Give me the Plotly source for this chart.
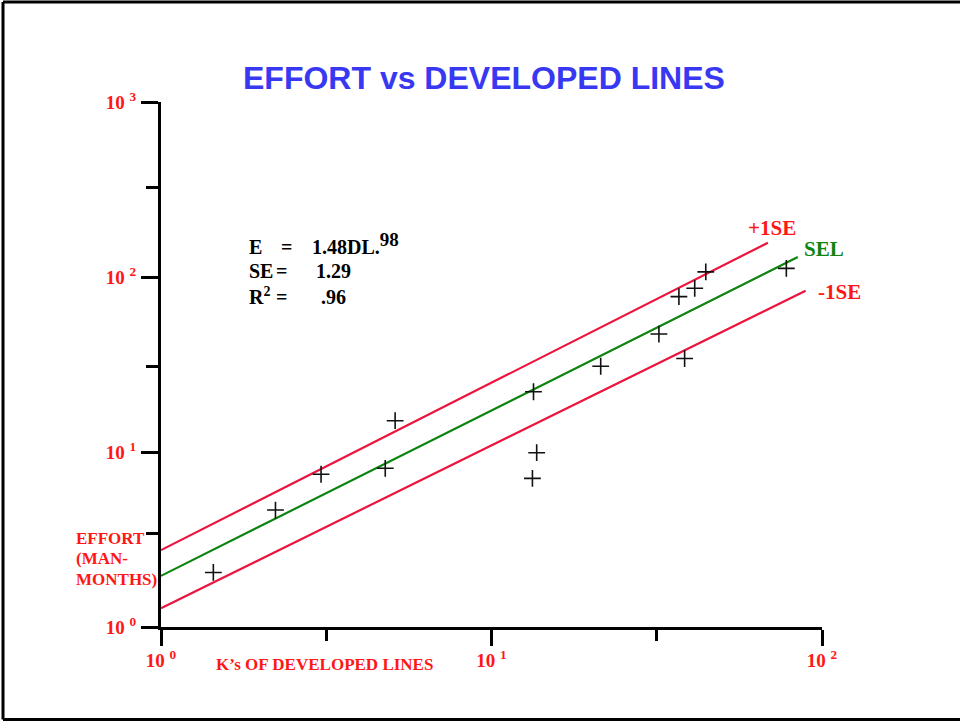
import plotly.graph_objects as go

# Observed projects: thousands of developed lines vs. effort in man-months
dev_lines = [1.44, 2.22, 3.05, 4.77, 5.11, 13.4, 13.7, 13.3, 21.4, 32.1, 36.9, 38.4, 41.2, 44.5, 78.0]
effort = [2.05, 4.66, 7.46, 8.07, 15.1, 22.1, 9.91, 7.07, 30.9, 47.2, 77.2, 34.2, 86.2, 107, 112]

# Standard estimating line and the +/- one standard error bands (end points)
sel_x = [1.0, 84.5]
sel_y = [1.96, 130.0]
upper_x = [1.0, 68.6]
upper_y = [2.75, 157.0]
lower_x = [1.0, 89.2]
lower_y = [1.28, 83.5]

x_tickvals = [1, 10, 100]
x_ticktext = ["10 <sup>0</sup>", "10 <sup>1</sup>", "10 <sup>2</sup>"]
y_tickvals = [1, 10, 100, 1000]
y_ticktext = ["10 <sup>0</sup>", "10 <sup>1</sup>", "10 <sup>2</sup>", "10 <sup>3</sup>"]
x_minor = [3.16, 31.6]
y_minor = [3.4, 31.0, 324.0]

RED_TEXT = "#FF1616"
RED_LINE = "#EC143E"
GREEN = "#0E850E"
BLUE = "#3838F2"
SERIF = "Liberation Serif"
SANS = "Liberation Sans"

W, H = 960, 721
L, R, T, B = 161, 138, 102, 94
PW, PH = W - L - R, H - T - B


def px(x):
    return (x - L) / PW


def py(y):
    return (H - B - y) / PH


fig = go.Figure()

fig.add_trace(go.Scatter(x=upper_x, y=upper_y, mode="lines",
                         line=dict(color=RED_LINE, width=2.2), showlegend=False))
fig.add_trace(go.Scatter(x=sel_x, y=sel_y, mode="lines",
                         line=dict(color=GREEN, width=2.2), showlegend=False))
fig.add_trace(go.Scatter(x=lower_x, y=lower_y, mode="lines",
                         line=dict(color=RED_LINE, width=2.2), showlegend=False))
fig.add_trace(go.Scatter(x=dev_lines, y=effort, mode="markers",
                         marker=dict(symbol="cross-thin", size=12,
                                     line=dict(color="#111111", width=1.6)),
                         showlegend=False))

tick_font = dict(family=SERIF, size=19, color=RED_TEXT, weight="bold")

fig.update_xaxes(type="log", range=[0, 2], showgrid=False, zeroline=False,
                 showline=True, linecolor="black", linewidth=3,
                 ticks="outside", ticklen=16, tickwidth=3, tickcolor="black",
                 tickmode="array", tickvals=x_tickvals, ticktext=x_ticktext,
                 tickfont=tick_font, ticklabelstandoff=-2,
                 minor=dict(tickmode="array", tickvals=x_minor, ticks="outside",
                            ticklen=11, tickwidth=3, tickcolor="black", showgrid=False))
fig.update_yaxes(type="log", range=[0, 3], showgrid=False, zeroline=False,
                 showline=True, linecolor="black", linewidth=3,
                 ticks="outside", ticklen=17, tickwidth=3, tickcolor="black",
                 tickmode="array", tickvals=y_tickvals, ticktext=y_ticktext,
                 tickfont=tick_font, ticklabelstandoff=1,
                 minor=dict(tickmode="array", tickvals=y_minor, ticks="outside",
                            ticklen=12, tickwidth=3, tickcolor="black", showgrid=False))

ann = []


def text(x, y, s, size, color, family=SERIF, anchor="left"):
    ann.append(dict(x=px(x), y=py(y), xref="paper", yref="paper", text=s,
                    showarrow=False, xanchor=anchor, yanchor="middle",
                    font=dict(family=family, size=size, color=color, weight="bold")))


# Title
text(484, 78, "EFFORT vs DEVELOPED LINES", 32, BLUE, family=SANS, anchor="center")

# Axis titles
text(74, 538, "EFFORT", 17, RED_TEXT)
text(74, 558, "(MAN-", 17, RED_TEXT)
text(74, 579, "MONTHS)", 17, RED_TEXT)
text(214, 664, "K\u2019s OF DEVELOPED LINES", 17, RED_TEXT)

# Regression statistics
text(247, 247, "E", 20, "black")
text(279, 247, "=", 20, "black")
text(310, 243, "1.48DL.<sup><span style='font-size:19px'>98</span></sup>", 20, "black")
text(247, 271, "SE", 20, "black")
text(274, 271, "=", 20, "black")
text(314, 271, "1.29", 20, "black")
text(247, 296, "R<sup>2</sup>", 20, "black")
text(274, 297, "=", 20, "black")
text(319, 297, ".96", 20, "black")

# Line labels
text(772, 228, "+1SE", 21, RED_TEXT, anchor="center")
text(824, 249, "SEL", 21, GREEN, anchor="center")
text(839, 292, "-1SE", 21, RED_TEXT, anchor="center")

# Page frame: left, top and bottom edges as separate strokes
fx0, fx1 = px(3), px(960)
fy0, fy1 = py(719.5), py(2)
frame = [
    dict(x0=fx0, x1=fx1, y0=fy1, y1=fy1),
    dict(x0=fx0, x1=fx0, y0=fy0, y1=fy1),
    dict(x0=fx0, x1=fx1, y0=fy0, y1=fy0),
]
shapes = [dict(type="line", xref="paper", yref="paper",
               line=dict(color="black", width=3), **seg) for seg in frame]

fig.update_layout(
    width=W, height=H, autosize=False,
    margin=dict(l=L, r=R, t=T, b=B, pad=0),
    plot_bgcolor="white", paper_bgcolor="white",
    annotations=ann,
    shapes=shapes,
)

fig.write_html("out.html")
